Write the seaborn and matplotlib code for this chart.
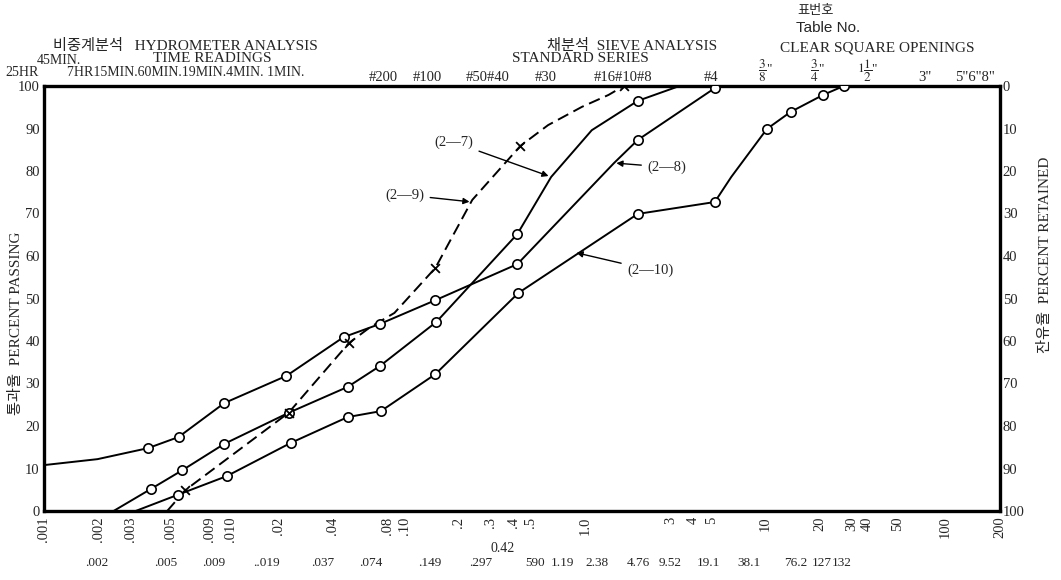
"""
Grain size distribution curves (hydrometer + sieve analysis)
"""
import matplotlib
matplotlib.use("Agg")
import matplotlib.pyplot as plt
from matplotlib.ticker import NullLocator
import seaborn as sns
import pandas as pd

W, H = 1061, 580

# bottom axis ticks, grain size in mm
tick_vals = [0.001, 0.002, 0.003, 0.005, 0.009, 0.010, 0.02, 0.04, 0.08, 0.10,
             0.2, 0.3, 0.4, 0.5, 1.0, 3, 4, 5, 10, 20, 30, 40, 50, 100, 200]
tick_text = ['.001', '.002', '.003', '.005', '.009', '.010', '.02', '.04', '.08', '.10',
             '.2', '.3', '.4', '.5', '1.0', '3', '4', '5', '10', '20', '30', '40', '50', '100', '200']

# second row of bottom labels (openings, mm)
opening_text = ['.002', '.005', '.009', '..019', '.037', '.074', '.149', '.297', '590',
                '1.19', '2.38', '4.76', '9.52', '19.1', '38.1', '76.2', '127', '132']
opening_px = [97, 166, 214, 266, 323, 371, 430, 481, 535,
              562, 597, 638, 670, 708, 749, 796, 822, 842]

# top labels: sieve numbers / square openings
sieve_text = ['#200', '#100', '#50#40', '#30', '#16#10#8', '#4',
              r'$\dfrac{3}{8}$"', r'$\dfrac{3}{4}$"', r'$1\dfrac{1}{2}$"', '3"', '5"6"8"']
sieve_px = [383, 427, 488, 546, 623, 711, 765, 817, 868, 925, 975]

s27_size = [0.00243, 0.00392, 0.00585, 0.0100, 0.0227, 0.0483, 0.0728, 0.150, 0.422, 0.649, 1.09, 1.96, 3.34]
s27_pass = [0, 5.2, 9.6, 15.8, 23.1, 29.2, 34.1, 44.5, 65.2, 78.6, 89.6, 96.5, 100]
s27_mark = [0, 1, 1, 1, 1, 1, 1, 1, 1, 0, 0, 1, 0]

s28_size = [0.001, 0.00198, 0.00378, 0.00557, 0.0100, 0.0221, 0.0458, 0.0728, 0.148, 0.422, 1.45, 1.96, 5.24]
s28_pass = [10.8, 12.2, 14.8, 17.4, 25.4, 31.8, 40.9, 44.0, 49.6, 58.1, 81.9, 87.3, 99.5]
s28_mark = [0, 0, 1, 1, 1, 1, 1, 1, 1, 1, 0, 1, 1]

s29_size = [0.00482, 0.00607, 0.0227, 0.049, 0.0646, 0.0877, 0.148, 0.237, 0.438, 0.624, 0.962, 1.35, 1.64]
s29_pass = [0, 4.9, 23.1, 39.5, 43.3, 46.6, 57.2, 73.2, 85.9, 90.8, 95.1, 97.9, 100]
s29_mark = [0, 1, 1, 1, 0, 0, 1, 0, 1, 0, 0, 0, 1]

s210_size = [0.00322, 0.00551, 0.0103, 0.0233, 0.0483, 0.0738, 0.148, 0.427, 1.96, 5.24, 6.47, 10.2, 13.8, 20.9, 27.2]
s210_pass = [0, 3.8, 8.2, 16.0, 22.1, 23.5, 32.2, 51.3, 69.9, 72.7, 78.6, 89.9, 93.9, 97.9, 100]
s210_mark = [0, 1, 1, 1, 1, 1, 1, 1, 1, 1, 0, 1, 1, 1, 1]

curves = {
    '2-7': (s27_size, s27_pass, s27_mark),
    '2-8': (s28_size, s28_pass, s28_mark),
    '2-9': (s29_size, s29_pass, s29_mark),
    '2-10': (s210_size, s210_pass, s210_mark),
}

sns.set_style('white')
plt.rcParams['font.family'] = ['Liberation Serif', 'Noto Sans CJK KR']
plt.rcParams['mathtext.fontset'] = 'stix'


def fpos(px, py):
    # pixel position in the reference -> figure fraction
    return px / W, 1 - py / H


fig = plt.figure(figsize=(W / 100, H / 100), dpi=100)
ax = fig.add_axes([44 / W, 1 - 511 / H, 956 / W, 425 / H])
ax.set_xscale('log')

for name, (size, passing, mark) in curves.items():
    df = pd.DataFrame({'size': size, 'passing': passing, 'mark': mark})
    dashed = name == '2-9'
    sns.lineplot(data=df, x='size', y='passing', sort=False, estimator=None,
                 color='black', lw=1.4, ax=ax,
                 dashes=False, linestyle=(0, (6, 3)) if dashed else '-')
    pts = df[df['mark'] == 1]
    if dashed:
        sns.scatterplot(data=pts, x='size', y='passing', marker='x', s=40,
                        color='black', linewidth=1.3, ax=ax, zorder=5)
    else:
        sns.scatterplot(data=pts, x='size', y='passing', marker='o', s=45,
                        facecolor='white', edgecolor='black', linewidth=1.2,
                        ax=ax, zorder=5)

ax.set_xlim(0.001, 200)
ax.set_ylim(0, 100)
ax.xaxis.set_minor_locator(NullLocator())
ax.set_xticks(tick_vals)
ax.set_xticklabels(tick_text, rotation=90, fontsize=10.5)
for lab in ax.get_xticklabels():
    if lab.get_text() in ('.009', '40'):
        lab.set_ha('right')
    elif lab.get_text() in ('.010', '50'):
        lab.set_ha('left')
ax.set_yticks(range(0, 101, 10))
ax.tick_params(axis='x', length=0, pad=4, labelsize=10.5)
ax.tick_params(axis='y', length=0, pad=3, labelsize=10.5)
ax.set_xlabel('')
ax.set_ylabel('')
for sp in ax.spines.values():
    sp.set_linewidth(2.4)
    sp.set_color('black')

ax2 = ax.twinx()
ax2.set_ylim(100, 0)
ax2.set_yticks(range(0, 101, 10))
ax2.tick_params(axis='y', length=0, pad=2, labelsize=10.5)
for sp in ax2.spines.values():
    sp.set_visible(False)

# curve labels with arrows
arrow = dict(arrowstyle='-|>', color='black', lw=1.0, mutation_scale=9)
ax.annotate('(2—7)', xy=(0.649, 78.6), xytext=(0.187, 86.8), fontsize=10.5,
            ha='center', va='center', arrowprops=arrow)
ax.annotate('(2—8)', xy=(1.44, 81.9), xytext=(2.84, 80.9), fontsize=10.5,
            ha='center', va='center', arrowprops=arrow)
ax.annotate('(2—9)', xy=(0.237, 72.7), xytext=(0.10, 74.4), fontsize=10.5,
            ha='center', va='center', arrowprops=arrow)
ax.annotate('(2—10)', xy=(0.866, 60.9), xytext=(2.30, 56.7), fontsize=10.5,
            ha='center', va='center', arrowprops=arrow)

# axis titles
fig.text(*fpos(16, 323), '통과율  PERCENT PASSING', rotation=90, ha='center',
         va='center', fontsize=11)
fig.text(*fpos(1045, 255), '잔유율  PERCENT RETAINED', rotation=90, ha='center',
         va='center', fontsize=11)

# headings above the chart
fig.text(*fpos(185, 46), '비중계분석   HYDROMETER ANALYSIS', ha='center', va='center', fontsize=11)
fig.text(*fpos(212, 59), 'TIME READINGS', ha='center', va='center', fontsize=11)
fig.text(*fpos(59, 60), '45MIN.', ha='center', va='center', fontsize=10)
fig.text(*fpos(22, 72), '25HR', ha='center', va='center', fontsize=10)
fig.text(*fpos(67, 72), '7HR15MIN.60MIN.19MIN.4MIN. 1MIN.', ha='left', va='center', fontsize=10)
fig.text(*fpos(632, 46), '채분석  SIEVE ANALYSIS', ha='center', va='center', fontsize=11)
fig.text(*fpos(580, 59), 'STANDARD SERIES', ha='center', va='center', fontsize=11)
fig.text(*fpos(815, 11), '표번호', ha='center', va='center', fontsize=9.5)
fig.text(*fpos(828, 28), 'Table No.', ha='center', va='center', fontsize=11,
         family=['Liberation Sans'])
fig.text(*fpos(877, 48), 'CLEAR SQUARE OPENINGS', ha='center', va='center', fontsize=11)

for txt, px in zip(sieve_text, sieve_px):
    size = 9.5 if '$' in txt else 10.5
    fig.text(*fpos(px, 84), txt, ha='center', va='bottom', fontsize=size)

for txt, px in zip(opening_text, opening_px):
    fig.text(*fpos(px, 563), txt, ha='center', va='center', fontsize=9.5)
fig.text(*fpos(503, 548), '0.42', ha='center', va='center', fontsize=10)

plt.savefig('out.png', dpi=100)
plt.close()
